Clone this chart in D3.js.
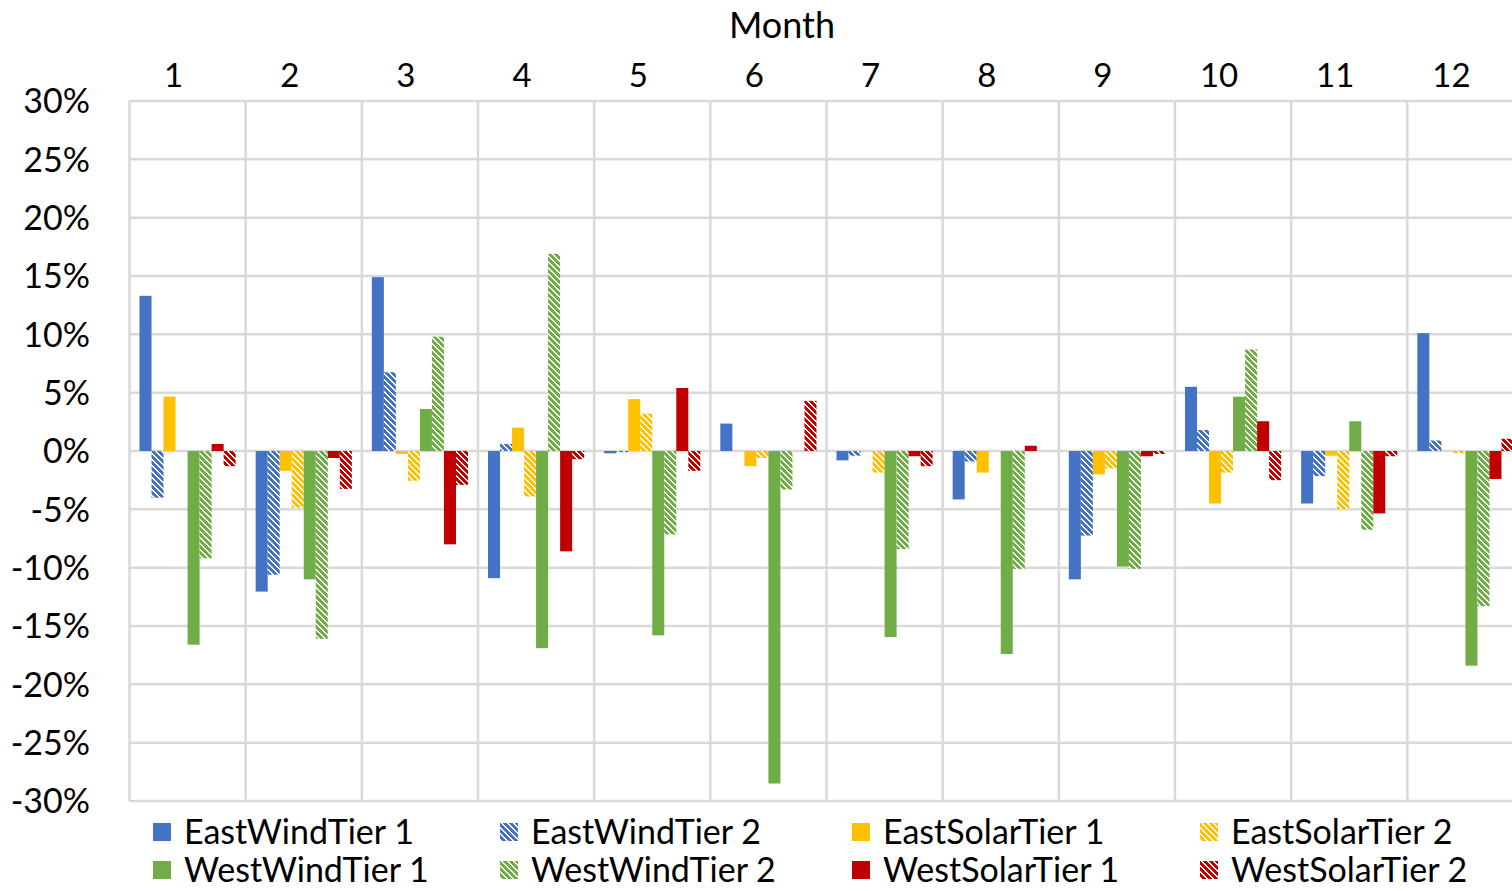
<!DOCTYPE html>
<html>
<head>
<meta charset="utf-8">
<script src="https://cdn.jsdelivr.net/npm/d3@7"></script>
<style>
  html, body { margin: 0; padding: 0; background: #fff; overflow: hidden; }
  svg { display: block; }
  text { font-family: Lato, "Open Sans", sans-serif; fill: #000; }
</style>
</head>
<body>
<svg id="chart" width="1512" height="891"></svg>
<script>
const months = ["1","2","3","4","5","6","7","8","9","10","11","12"];
const seriesNames = ["EastWindTier 1","EastWindTier 2","EastSolarTier 1","EastSolarTier 2",
                     "WestWindTier 1","WestWindTier 2","WestSolarTier 1","WestSolarTier 2"];
const yTicks = [30,25,20,15,10,5,0,-5,-10,-15,-20,-25,-30];

// values in percent
const eastWindTier1  = [13.3, -12.05, 14.9, -10.9, -0.2, 2.35, -0.8, -4.15, -11.0, 5.5, -4.5, 10.1];
const eastWindTier2  = [-4.0, -10.6, 6.75, 0.6, -0.1, 0, -0.4, -0.9, -7.25, 1.8, -2.15, 0.9];
const eastSolarTier1 = [4.66, -1.7, -0.25, 2.0, 4.45, -1.3, 0, -1.85, -2.0, -4.5, -0.4, 0];
const eastSolarTier2 = [0, -4.85, -2.55, -3.9, 3.2, -0.6, -1.85, 0, -1.5, -1.85, -5.0, -0.2];
const westWindTier1  = [-16.6, -11.0, 3.6, -16.9, -15.8, -28.5, -15.95, -17.4, -9.9, 4.65, 2.55, -18.4];
const westWindTier2  = [-9.2, -16.1, 9.8, 16.9, -7.15, -3.3, -8.4, -10.1, -10.1, 8.7, -6.75, -13.3];
const westSolarTier1 = [0.6, -0.6, -8.0, -8.6, 5.4, 0, -0.45, 0.45, -0.45, 2.55, -5.35, -2.4];
const westSolarTier2 = [-1.3, -3.25, -2.9, -0.7, -1.7, 4.3, -1.3, 0, -0.25, -2.5, -0.45, 1.05];

const seriesValues = [eastWindTier1, eastWindTier2, eastSolarTier1, eastSolarTier2,
                      westWindTier1, westWindTier2, westSolarTier1, westSolarTier2];
const seriesColors = ["#4472C4","#4472C4","#FFC000","#FFC000","#70AD47","#70AD47","#C00000","#C00000"];
const seriesHatched = [false,true,false,true,false,true,false,true];

const svg = d3.select("#chart");
const plot = { left: 129.5, right: 1523.5, top: 101, bottom: 801 };

const x0 = d3.scaleBand().domain(months).range([plot.left, plot.right]).paddingInner(0).paddingOuter(0);
const bw = x0.bandwidth();
const x1 = d3.scaleBand().domain(d3.range(seriesNames.length)).range([10, bw - 10]).padding(0);
const y = d3.scaleLinear().domain([-30, 30]).range([plot.bottom, plot.top]);

// pixel "wide downward diagonal" patterns
const defs = svg.append("defs");
const P = 6, STRIPE = 4;
seriesColors.forEach((c, i) => {
  if (!seriesHatched[i]) return;
  const p = defs.append("pattern")
    .attr("id", "hatch" + i)
    .attr("patternUnits", "userSpaceOnUse")
    .attr("width", P).attr("height", P);
  p.append("rect").attr("width", P).attr("height", P).attr("fill", "#fff");
  const cells = [];
  for (let r = 0; r < P; r++) for (let k = 0; k < STRIPE; k++) cells.push([(r + k) % P, r]);
  p.selectAll("rect.c").data(cells).join("rect").attr("class", "c")
    .attr("x", d => d[0]).attr("y", d => d[1]).attr("width", 1).attr("height", 1)
    .attr("fill", c).attr("shape-rendering", "crispEdges");
});
const fillFor = i => seriesHatched[i] ? `url(#hatch${i})` : seriesColors[i];

// grid
const grid = svg.append("g").attr("stroke", "#d9d9d9").attr("stroke-width", 2.5);
grid.selectAll("line.h").data(yTicks).join("line")
  .attr("x1", plot.left).attr("x2", plot.right)
  .attr("y1", d => y(d)).attr("y2", d => y(d));
const vb = months.map(m => x0(m)).concat([plot.right]);
grid.selectAll("line.v").data(vb).join("line")
  .attr("y1", plot.top).attr("y2", plot.bottom)
  .attr("x1", d => d).attr("x2", d => d);

// bars
const bars = [];
months.forEach((m, mi) => seriesValues.forEach((vals, si) => bars.push({ m, si, v: vals[mi] })));
svg.append("g").selectAll("rect").data(bars).join("rect")
  .attr("x", d => x0(d.m) + x1(d.si))
  .attr("width", x1.bandwidth())
  .attr("y", d => y(Math.max(0, d.v)))
  .attr("height", d => Math.abs(y(d.v) - y(0)))
  .attr("fill", d => fillFor(d.si));

// y axis labels
const yAxis = d3.axisLeft(y).tickValues(yTicks).tickSize(0).tickPadding(0).tickFormat(d => d + "%");
const ya = svg.append("g").attr("transform", `translate(${90},0)`).call(yAxis);
ya.select(".domain").remove();
ya.selectAll("text").style("font-family", "Lato").style("font-size", "34px").attr("dy", "0.35em").attr("fill", "#000");

// x axis (top) labels
const xAxis = d3.axisTop(x0).tickSize(0).tickPadding(0);
const xa = svg.append("g").attr("transform", `translate(-14,${75})`).call(xAxis);
xa.select(".domain").remove();
xa.selectAll("text").style("font-family", "Lato").style("font-size", "33px").attr("dy", "0.35em").attr("fill", "#000");

// title
svg.append("text").attr("x", 782).attr("y", 25).attr("dy", "0.35em")
  .attr("text-anchor", "middle").style("font-size", "36px").text("Month");

// legend
const legX = [153, 500, 852, 1200];
const legY = [832, 870];
const leg = svg.append("g").selectAll("g").data(seriesNames).join("g")
  .attr("transform", (d, i) => `translate(${legX[i % 4]},${legY[Math.floor(i / 4)]})`);
leg.append("rect").attr("x", 0).attr("y", -9).attr("width", 18).attr("height", 18)
  .attr("fill", (d, i) => fillFor(i)).attr("shape-rendering", "crispEdges");
leg.append("text").attr("x", 31).attr("dy", "0.35em").style("font-size", "34px").text(d => d);
</script>
</body>
</html>
